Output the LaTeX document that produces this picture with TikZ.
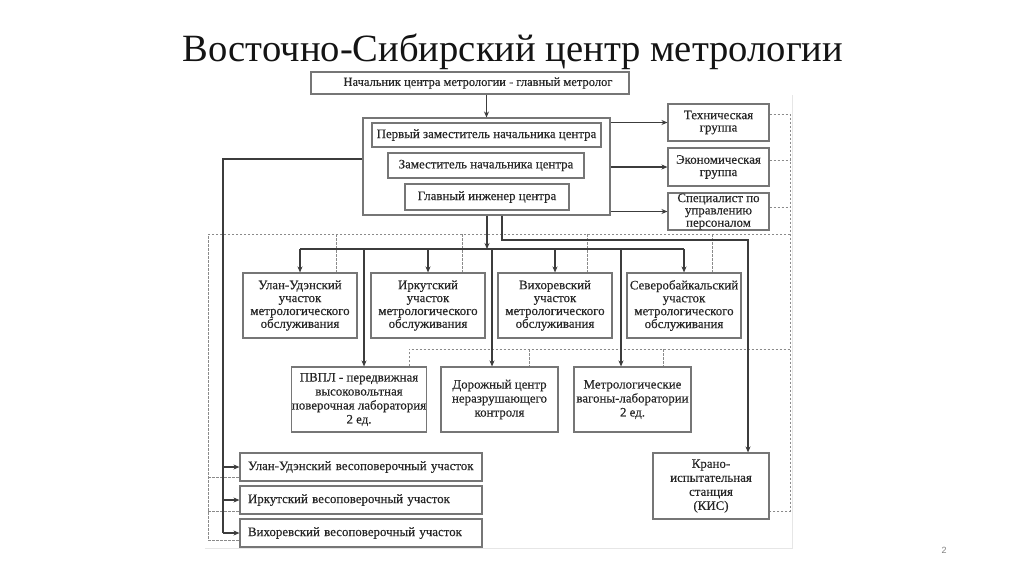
\documentclass[tikz,border=0pt]{standalone}
\usepackage{fontspec}
\setmainfont{Liberation Serif}
\newfontfamily\boxfam[FakeBold=0.35]{Liberation Serif}
\newfontfamily\pgnumfont{Liberation Sans}
\usetikzlibrary{arrows.meta}
\definecolor{boxc}{HTML}{767676}
\definecolor{linec}{HTML}{3C3C3C}
\definecolor{dashc}{HTML}{8A8A8A}
\definecolor{txtc}{HTML}{262626}
\definecolor{framec}{HTML}{E6E6E6}
\newcommand{\boxfont}{\boxfam\fontsize{12.9}{12.9}\selectfont}
\newcommand{\boxfontr}{\boxfam\fontsize{12.9}{12.3}\selectfont}
\newcommand{\boxfontw}{\boxfam\fontsize{12.9}{14}\selectfont}
\tikzset{
  box/.style={draw=boxc, line width=1.1pt, inner sep=0pt, align=center, font=\boxfont, text=txtc},
  rbox/.style={box, font=\boxfontr, minimum width=101pt},
  wbox/.style={box, font=\boxfontw, minimum height=65pt},
  mbox/.style={box, minimum width=114pt, minimum height=65pt},
  lbox/.style={box, align=left, inner xsep=8pt, text width=226pt, minimum width=242pt, minimum height=28pt},
  conn/.style={draw=linec, line width=1.2pt},
  arr/.style={conn, -{Stealth[length=6pt,width=5pt]}},
  dsh/.style={draw=dashc, line width=0.75pt, dash pattern=on 2.5pt off 1.5pt},
}
\begin{document}
\begin{tikzpicture}[x=1pt,y=-1pt]
\useasboundingbox (0,0) rectangle (1024,574);
\fill[white] (0,0) rectangle (1024,574);
% faint frame of the scanned image
\draw[framec, line width=0.6pt] (792,95) -- (792,548) -- (205,548);
% title
\node[font=\fontsize{38.6}{40}\selectfont, text=black!92, anchor=base] (title) at (513,61) {Восточно-Сибирский центр метрологии};
\node[font=\pgnumfont\fontsize{9}{10}\selectfont, text=gray] (pg) at (944,550) {2};
% head
\node[box, font=\boxfam\fontsize{12.5}{13.4}\selectfont, minimum width=318pt, minimum height=22pt] (head) at (470,83) {\hspace*{16pt}Начальник центра метрологии - главный метролог};
% big box
\node[box, minimum width=247pt, minimum height=97pt] (big) at (486.5,166.5) {};
\node[box, minimum width=229pt, minimum height=24pt] (p1) at (486.5,135) {Первый заместитель начальника центра};
\node[box, minimum width=196pt, minimum height=25pt] (p2) at (486,165.5) {Заместитель начальника центра};
\node[box, minimum width=164pt, minimum height=26pt] (p3) at (487,197) {Главный инженер центра};
% right groups
\node[rbox, minimum height=37pt] (tg) at (718.5,122.5) {Техническая\\группа};
\node[rbox, minimum height=38pt] (eg) at (718.5,167) {Экономическая\\группа};
\node[rbox, minimum height=37pt] (sp) at (718.5,211.5) {Специалист по\\управлению\\персоналом};
% middle row
\node[mbox] (m1) at (300,305.5) {Улан-Удэнский\\участок\\метрологического\\обслуживания};
\node[mbox] (m2) at (428,305.5) {Иркутский\\участок\\метрологического\\обслуживания};
\node[mbox] (m3) at (555,305.5) {Вихоревский\\участок\\метрологического\\обслуживания};
\node[mbox] (m4) at (684,305.5) {Северобайкальский\\участок\\метрологического\\обслуживания};
% lower row
\node[wbox, minimum width=134pt] (l1) at (359,399.5) {ПВПЛ - передвижная\\высоковольтная\\поверочная лаборатория\\2 ед.};
\node[wbox, minimum width=117pt] (l2) at (499.5,399.5) {Дорожный центр\\неразрушающего\\контроля};
\node[wbox, minimum width=117pt] (l3) at (632.5,399.5) {Метрологические\\вагоны-лаборатории\\2 ед.};
\node[wbox, minimum width=116pt, minimum height=66pt] (kis) at (711,486) {Крано-\\испытательная\\станция\\(КИС)};
% bottom boxes
\node[lbox] (b1) at (361,467) {\mbox{Улан-Удэнский весоповерочный участок}};
\node[lbox] (b2) at (361,500) {\mbox{Иркутский весоповерочный участок}};
\node[lbox] (b3) at (361,533) {\mbox{Вихоревский весоповерочный участок}};
% coordinates
\coordinate (rt) at (790,114);
\coordinate (rb) at (790,511);
\coordinate (lt) at (208,234);
\coordinate (lb) at (208,540);
\coordinate (ld) at (409,349);
\coordinate (bus) at (487,249);
\coordinate (v1) at (364,249);
\coordinate (v2) at (492,249);
\coordinate (v3) at (621,249);
\coordinate (k1) at (502,240);
\coordinate (k2) at (748,240);
\coordinate (ls) at (223,159);
% dashed lines
\draw[dsh] (tg.east |- rt) -- (rt) -- (rb) -- (kis.east |- rb);
\draw[dsh] ([yshift=7pt]eg.east) -- ([yshift=7pt]eg.east -| rt);
\draw[dsh] ([yshift=4.5pt]sp.east) -- ([yshift=4.5pt]sp.east -| rt);
\draw[dsh] (rt |- lt) -- (lt) -- (lb) -- (lb -| b3.west);
\draw[dsh] (lt |- 0,477) -- (b1.west |- 0,477);
\draw[dsh] (lt |- 0,511) -- (b2.west |- 0,511);
\draw[dsh] (336,234) -- (m1.north -| 336,234);
\draw[dsh] (462,234) -- (m2.north -| 462,234);
\draw[dsh] (587,234) -- (m3.north -| 587,234);
\draw[dsh] (712,234) -- (m4.north -| 712,234);
\draw[dsh] (l1.north -| ld) -- (ld) -- (rt |- ld);
\draw[dsh] (529,349) -- (l2.north -| 529,349);
\draw[dsh] (663,349) -- (l3.north -| 663,349);
% solid connectors
\draw[arr] (head.south -| big.north) -- (big.north);
\draw[arr] (big.east |- tg.west) -- (tg.west);
\draw[arr] (big.east |- eg.west) -- (eg.west);
\draw[arr] (big.east |- sp.west) -- (sp.west);
\draw[arr] (big.south -| bus) -- (bus);
\draw[conn] (m1.north |- bus) -- (m4.north |- bus);
\draw[arr] (m1.north |- bus) -- (m1.north);
\draw[arr] (m2.north |- bus) -- (m2.north);
\draw[arr] (m3.north |- bus) -- (m3.north);
\draw[arr] (m4.north |- bus) -- (m4.north);
\draw[arr] (v1) -- (v1 |- l1.north);
\draw[arr] (v2) -- (v2 |- l2.north);
\draw[arr] (v3) -- (v3 |- l3.north);
\draw[arr] (big.south -| k1) -- (k1) -- (k2) -- (k2 |- kis.north);
\draw[conn] (big.west |- ls) -- (ls) -- (ls |- b3.west);
\draw[arr] (ls |- b1.west) -- (b1.west);
\draw[arr] (ls |- b2.west) -- (b2.west);
\draw[arr] (ls |- b3.west) -- (b3.west);
\end{tikzpicture}
\end{document}
